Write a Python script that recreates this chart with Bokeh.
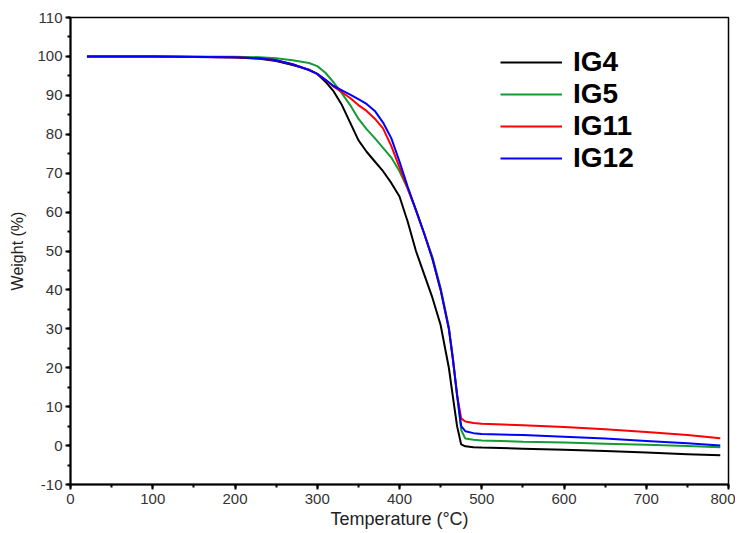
from bokeh.plotting import figure
from bokeh.models import Range1d, SingleIntervalTicker, Legend, LegendItem, CustomJSTickFormatter
from bokeh.embed import file_html
from bokeh.resources import INLINE

temperature = [20, 100, 200, 230, 250, 270, 290, 300, 310, 320, 330, 340, 350, 360, 370, 380,
               390, 400, 410, 420, 430, 440, 450, 460, 465, 470, 475, 480, 490, 500, 550, 600,
               650, 700, 750, 790]

ig4 = [100, 100, 99.7, 99.4, 98.8, 97.8, 96.6, 95.5, 93.5, 91, 87.5, 83, 78.5, 75.5, 73, 70.5,
       67.5, 64, 57.5, 50, 44, 38, 31, 20, 12.4, 5, 0.3, -0.2, -0.4, -0.5, -0.8, -1.1,
       -1.4, -1.8, -2.2, -2.5]
ig5 = [100, 100, 99.9, 99.8, 99.5, 99, 98.3, 97.5, 95.8, 93.3, 90.5, 87.5, 84, 81.3, 79, 76.5,
       74, 70.5, 66, 60.5, 54.5, 48.5, 40.5, 30.5, 22.5, 13, 4, 1.8, 1.5, 1.3, 1.0, 0.8,
       0.5, 0.2, -0.1, -0.4]
ig11 = [100, 100, 99.8, 99.5, 99, 98, 96.5, 95.5, 94, 92.2, 90.8, 89.3, 87.5, 86, 84, 81.5,
        77, 71.5, 66, 60.5, 54.5, 48, 40, 30, 22, 13, 7, 6.2, 5.8, 5.6, 5.2, 4.8,
        4.2, 3.5, 2.7, 1.9]
ig12 = [100, 100, 99.8, 99.5, 99, 98, 96.5, 95.5, 94, 92.4, 91.3, 90.2, 89, 87.8, 86, 83,
        79, 73, 66.5, 60.5, 54.5, 48, 40, 30, 22, 13, 5, 3.7, 3.2, 3.0, 2.7, 2.3,
        1.8, 1.2, 0.6, 0.0]

series_names = ["IG4", "IG5", "IG11", "IG12"]
series_values = [ig4, ig5, ig11, ig12]
series_colors = ["black", "#139c35", "#ff0000", "#0000ff"]

p = figure(width=735, height=532, x_range=Range1d(0, 800), y_range=Range1d(-10, 110),
           output_backend="svg", toolbar_location=None,
           min_border_left=70, min_border_right=7, min_border_top=17, min_border_bottom=48)

p.xgrid.visible = False
p.ygrid.visible = False
p.outline_line_color = "black"
p.outline_line_width = 1.5
p.outline_line_alpha = 1.0

items = []
for name, vals, col in zip(series_names, series_values, series_colors):
    r = p.line(temperature, vals, line_color=col, line_width=2)
    items.append(LegendItem(label=name, renderers=[r]))

p.xaxis.ticker = SingleIntervalTicker(interval=100, num_minor_ticks=2)
p.yaxis.ticker = SingleIntervalTicker(interval=10, num_minor_ticks=2)
p.xaxis.formatter = CustomJSTickFormatter(code="return tick.toString();")
p.yaxis.formatter = CustomJSTickFormatter(code="return tick.toString();")

for ax in (p.xaxis[0], p.yaxis[0]):
    ax.axis_line_width = 2
    ax.axis_line_color = "black"
    ax.major_tick_line_width = 2
    ax.minor_tick_line_width = 2
    ax.major_tick_in = 0
    ax.major_tick_out = 5
    ax.minor_tick_in = 0
    ax.minor_tick_out = 3
    ax.major_label_text_font = "Liberation Sans"
    ax.major_label_text_font_size = "15px"
    ax.major_label_text_color = "#333333"
    ax.axis_label_text_font = "Liberation Sans"
    ax.axis_label_text_font_style = "normal"
    ax.axis_label_text_color = "#222222"

p.xaxis.axis_label = "Temperature (°C)"
p.xaxis.axis_label_text_font_size = "18px"
p.xaxis.major_label_standoff = 4
p.xaxis.axis_label_standoff = 2

p.yaxis.axis_label = "Weight (%)"
p.yaxis.axis_label_text_font_size = "16px"
p.yaxis.major_label_standoff = 3
p.yaxis.axis_label_standoff = 8

legend = Legend(items=items, location=(430, 310), orientation="vertical",
                glyph_width=62, glyph_height=26, label_height=26, spacing=0,
                label_standoff=11, padding=0, margin=0,
                border_line_color=None, background_fill_alpha=0,
                label_text_font="Liberation Sans", label_text_font_style="bold",
                label_text_font_size="28px", label_text_color="black")
p.add_layout(legend, "center")

open("out.html", "w").write(file_html(p, INLINE))
